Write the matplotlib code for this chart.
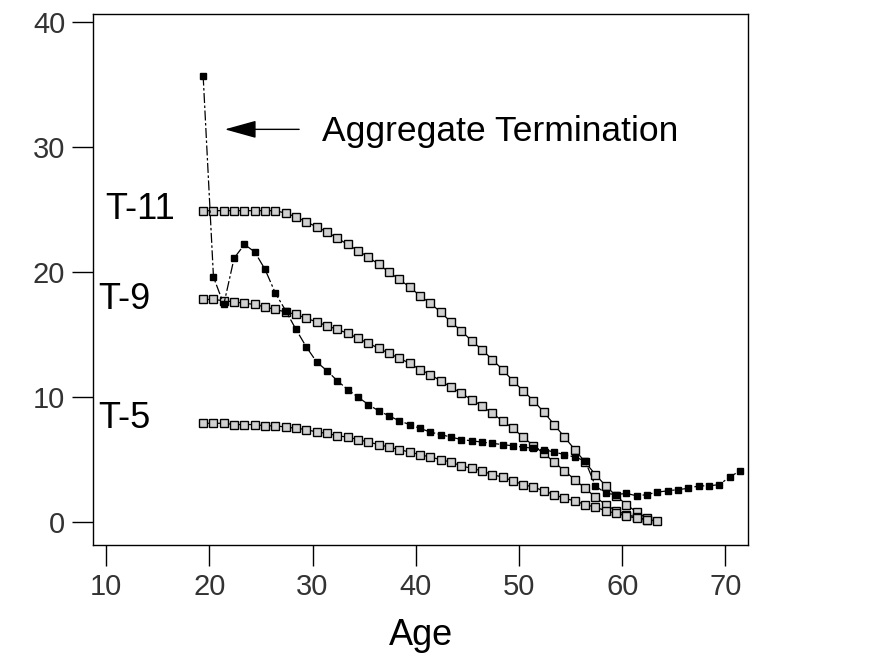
import numpy as np
import matplotlib
matplotlib.use("Agg")
import matplotlib.pyplot as plt

plt.rcParams['font.family'] = ['Liberation Sans', 'DejaVu Sans']

# ages for each series
age_t11 = np.arange(18, 62)
age_t9 = np.arange(18, 62)
age_t5 = np.arange(18, 63)
age_agg = np.arange(18, 71)

t11 = [24.9, 24.9, 24.9, 24.9, 24.9, 24.9, 24.9, 24.9, 24.7, 24.4,
       24.0, 23.6, 23.2, 22.7, 22.2, 21.7, 21.2, 20.6, 20.0, 19.4,
       18.8, 18.1, 17.5, 16.8, 16.0, 15.3, 14.5, 13.8, 13.0, 12.2,
       11.3, 10.5, 9.7, 8.8, 7.8, 6.8, 5.8, 4.8, 3.8, 2.9,
       2.1, 1.4, 0.8, 0.3]
t9 = [17.8, 17.8, 17.7, 17.6, 17.5, 17.4, 17.2, 17.0, 16.8, 16.6,
      16.3, 16.0, 15.7, 15.4, 15.1, 14.7, 14.3, 13.9, 13.5, 13.1,
      12.7, 12.2, 11.8, 11.3, 10.8, 10.3, 9.8, 9.3, 8.7, 8.1,
      7.5, 6.8, 6.1, 5.5, 4.8, 4.1, 3.4, 2.7, 2.0, 1.4,
      0.9, 0.6, 0.4, 0.2]
t5 = [7.9, 7.9, 7.9, 7.8, 7.8, 7.8, 7.7, 7.7, 7.6, 7.5,
      7.4, 7.2, 7.1, 6.9, 6.8, 6.6, 6.4, 6.2, 6.0, 5.8,
      5.6, 5.4, 5.2, 5.0, 4.8, 4.5, 4.3, 4.1, 3.8, 3.6,
      3.3, 3.0, 2.8, 2.5, 2.2, 1.9, 1.7, 1.4, 1.2, 0.9,
      0.7, 0.5, 0.3, 0.2, 0.1]
agg = [35.7, 19.6, 17.4, 21.1, 22.2, 21.6, 20.2, 18.3, 16.9, 15.4,
       14.0, 12.8, 12.1, 11.3, 10.6, 10.0, 9.4, 8.9, 8.5, 8.1,
       7.8, 7.5, 7.2, 7.0, 6.8, 6.6, 6.5, 6.4, 6.3, 6.2,
       6.1, 6.0, 5.9, 5.8, 5.6, 5.4, 5.2, 4.9, 2.9, 2.3,
       2.2, 2.3, 2.1, 2.2, 2.4, 2.5, 2.6, 2.7, 2.9, 2.9,
       3.0, 3.6, 4.1]

x_ticks = [10, 20, 30, 40, 50, 60, 70]
y_ticks = [0, 10, 20, 30, 40]
# the printed age axis sits about 1.4 years left of the plotted points
tick_shift = 1.4

fig = plt.figure(figsize=(8.7, 6.56), dpi=100)
ax = fig.add_axes([0.107, 0.169, 0.753, 0.810])

open_style = dict(color='black', lw=0.9, marker='s', markersize=5.5,
                  markerfacecolor='#d0d0d0', markeredgecolor='black',
                  markeredgewidth=1.0)
ax.plot(age_t11, t11, **open_style)
ax.plot(age_t9, t9, **open_style)
ax.plot(age_t5, t5, **open_style)
ax.plot(age_agg, agg, color='black', lw=0.9, linestyle=(0, (8, 2, 2, 2)),
        marker='s', markersize=5, markerfacecolor='black',
        markeredgecolor='black', clip_on=False)

ax.text(11.9, 25.0, 'T-11', fontsize=26, ha='center', va='center')
ax.text(10.4, 17.8, 'T-9', fontsize=26, ha='center', va='center')
ax.text(10.4, 8.3, 'T-5', fontsize=26, ha='center', va='center')
ax.annotate('', xy=(20.1, 31.4), xytext=(27.3, 31.4),
            arrowprops=dict(arrowstyle='-|>,head_length=0.9,head_width=0.25',
                            color='black', lw=1.0, mutation_scale=22,
                            shrinkA=0, shrinkB=0))
ax.text(29.5, 31.2, 'Aggregate Termination', fontsize=25.5,
        ha='left', va='center')

ax.set_xlim(7.34, 70.8)
ax.set_ylim(-1.84, 40.64)
ax.set_xticks(np.array(x_ticks) - tick_shift, [str(t) for t in x_ticks])
ax.set_yticks(y_ticks)
ax.tick_params(direction='out', length=15, width=1.0, labelsize=21,
               labelcolor='#333333', pad=5)
ax.set_xlabel('Age', fontsize=26, labelpad=12)
for s in ax.spines.values():
    s.set_linewidth(1.0)

fig.savefig('out.png', dpi=100)
